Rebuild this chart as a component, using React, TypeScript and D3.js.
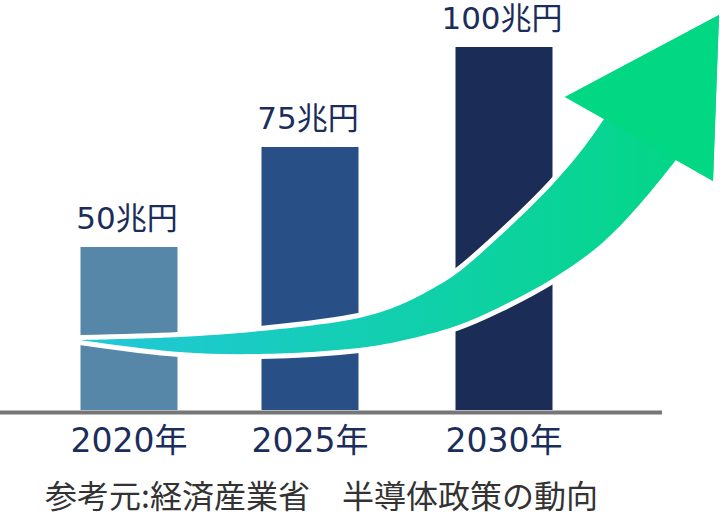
import React from "react";
import * as d3 from "d3";

// Market size (兆円) by year
const categories = ["2020年", "2025年", "2030年"];
const values = [50, 75, 100];
const valueLabels = ["50兆円", "75兆円", "100兆円"];
const barColors = ["#5687a8", "#284f86", "#1b2c56"];
const sourceNote = "参考元:経済産業省\u3000半導体政策の動向";

// Decorative growth arrow outline (frame coordinates)
const arrowUpper: [number, number][] = [
  [80, 340], [179, 337], [261, 331], [359, 318], [400, 305], [430, 290],
  [456, 274], [500, 236], [552, 185], [585, 146], [604, 119],
];
const arrowLower: [number, number][] = [
  [676, 160], [640, 204], [600, 245], [552, 279], [500, 307], [456, 326],
  [400, 341], [359, 348], [261, 354], [179, 352], [80, 340],
];
const arrowHead: [number, number][] = [[565, 97], [719, 15], [713, 181]];

const W = 720;
const H = 518;
const BASE = 410;
const CJK = "'Noto Sans CJK JP', sans-serif";
const NUM = "'DejaVu Sans', 'Noto Sans CJK JP', sans-serif";

export default function App() {
  const x = d3.scaleOrdinal<string, number>().domain(categories).range([129, 310, 504]);
  const barW = 97;
  const y = d3.scaleLinear().domain([9.25, 100]).range([BASE, 47]);

  const curve = d3.line().curve(d3.curveCatmullRom.alpha(0.5));
  const upperD = curve(arrowUpper) as string;
  const lowerD = (curve(arrowLower) as string).replace(/^M/, "L");
  const headD = arrowHead.map((p) => `L${p[0]},${p[1]}`).join("");
  const arrowD = `${upperD}${headD}${lowerD}Z`;
  const headOnly = `M604,119L${arrowHead.map((p) => p.join(",")).join("L")}L676,160Z`;

  return (
    <svg width={W} height={H} style={{ position: "fixed", left: 0, top: 0, background: "#fff" }}>
      <defs>
        <linearGradient id="shaftGrad" gradientUnits="userSpaceOnUse" x1={80} y1={0} x2={700} y2={0}>
          <stop offset="0" stopColor="#22c7da" />
          <stop offset="1" stopColor="#02d784" />
        </linearGradient>
      </defs>

      {categories.map((c, i) => (
        <rect
          key={c}
          x={x(c) - barW / 2}
          y={y(values[i])}
          width={barW}
          height={BASE - y(values[i])}
          fill={barColors[i]}
        />
      ))}

      <line x1={0} x2={662} y1={BASE + 2.5} y2={BASE + 2.5} stroke="#767676" strokeWidth={4} />

      <path d={arrowD} fill="#fff" stroke="#fff" strokeWidth={10} strokeLinejoin="round" />
      <path d={arrowD} fill="url(#shaftGrad)" />
      <path d={headOnly} fill="#02d784" />

      {categories.map((c, i) => (
        <text
          key={"v" + c}
          x={x(c) - 2}
          y={y(values[i]) - 18}
          textAnchor="middle"
          fontFamily={NUM}
          fontSize={31}
          fontWeight={400}
          fill="#1b2d5a"
        >
          {valueLabels[i]}
        </text>
      ))}

      {categories.map((c) => (
        <text
          key={"c" + c}
          x={x(c)}
          y={452}
          textAnchor="middle"
          fontFamily={NUM}
          fontSize={33}
          fontWeight={400}
          fill="#1b2d5a"
        >
          {c}
        </text>
      ))}

      <text x={45} y={508} fontFamily={CJK} fontSize={32} fontWeight={400} fill="#333333">
        {sourceNote}
      </text>
    </svg>
  );
}
